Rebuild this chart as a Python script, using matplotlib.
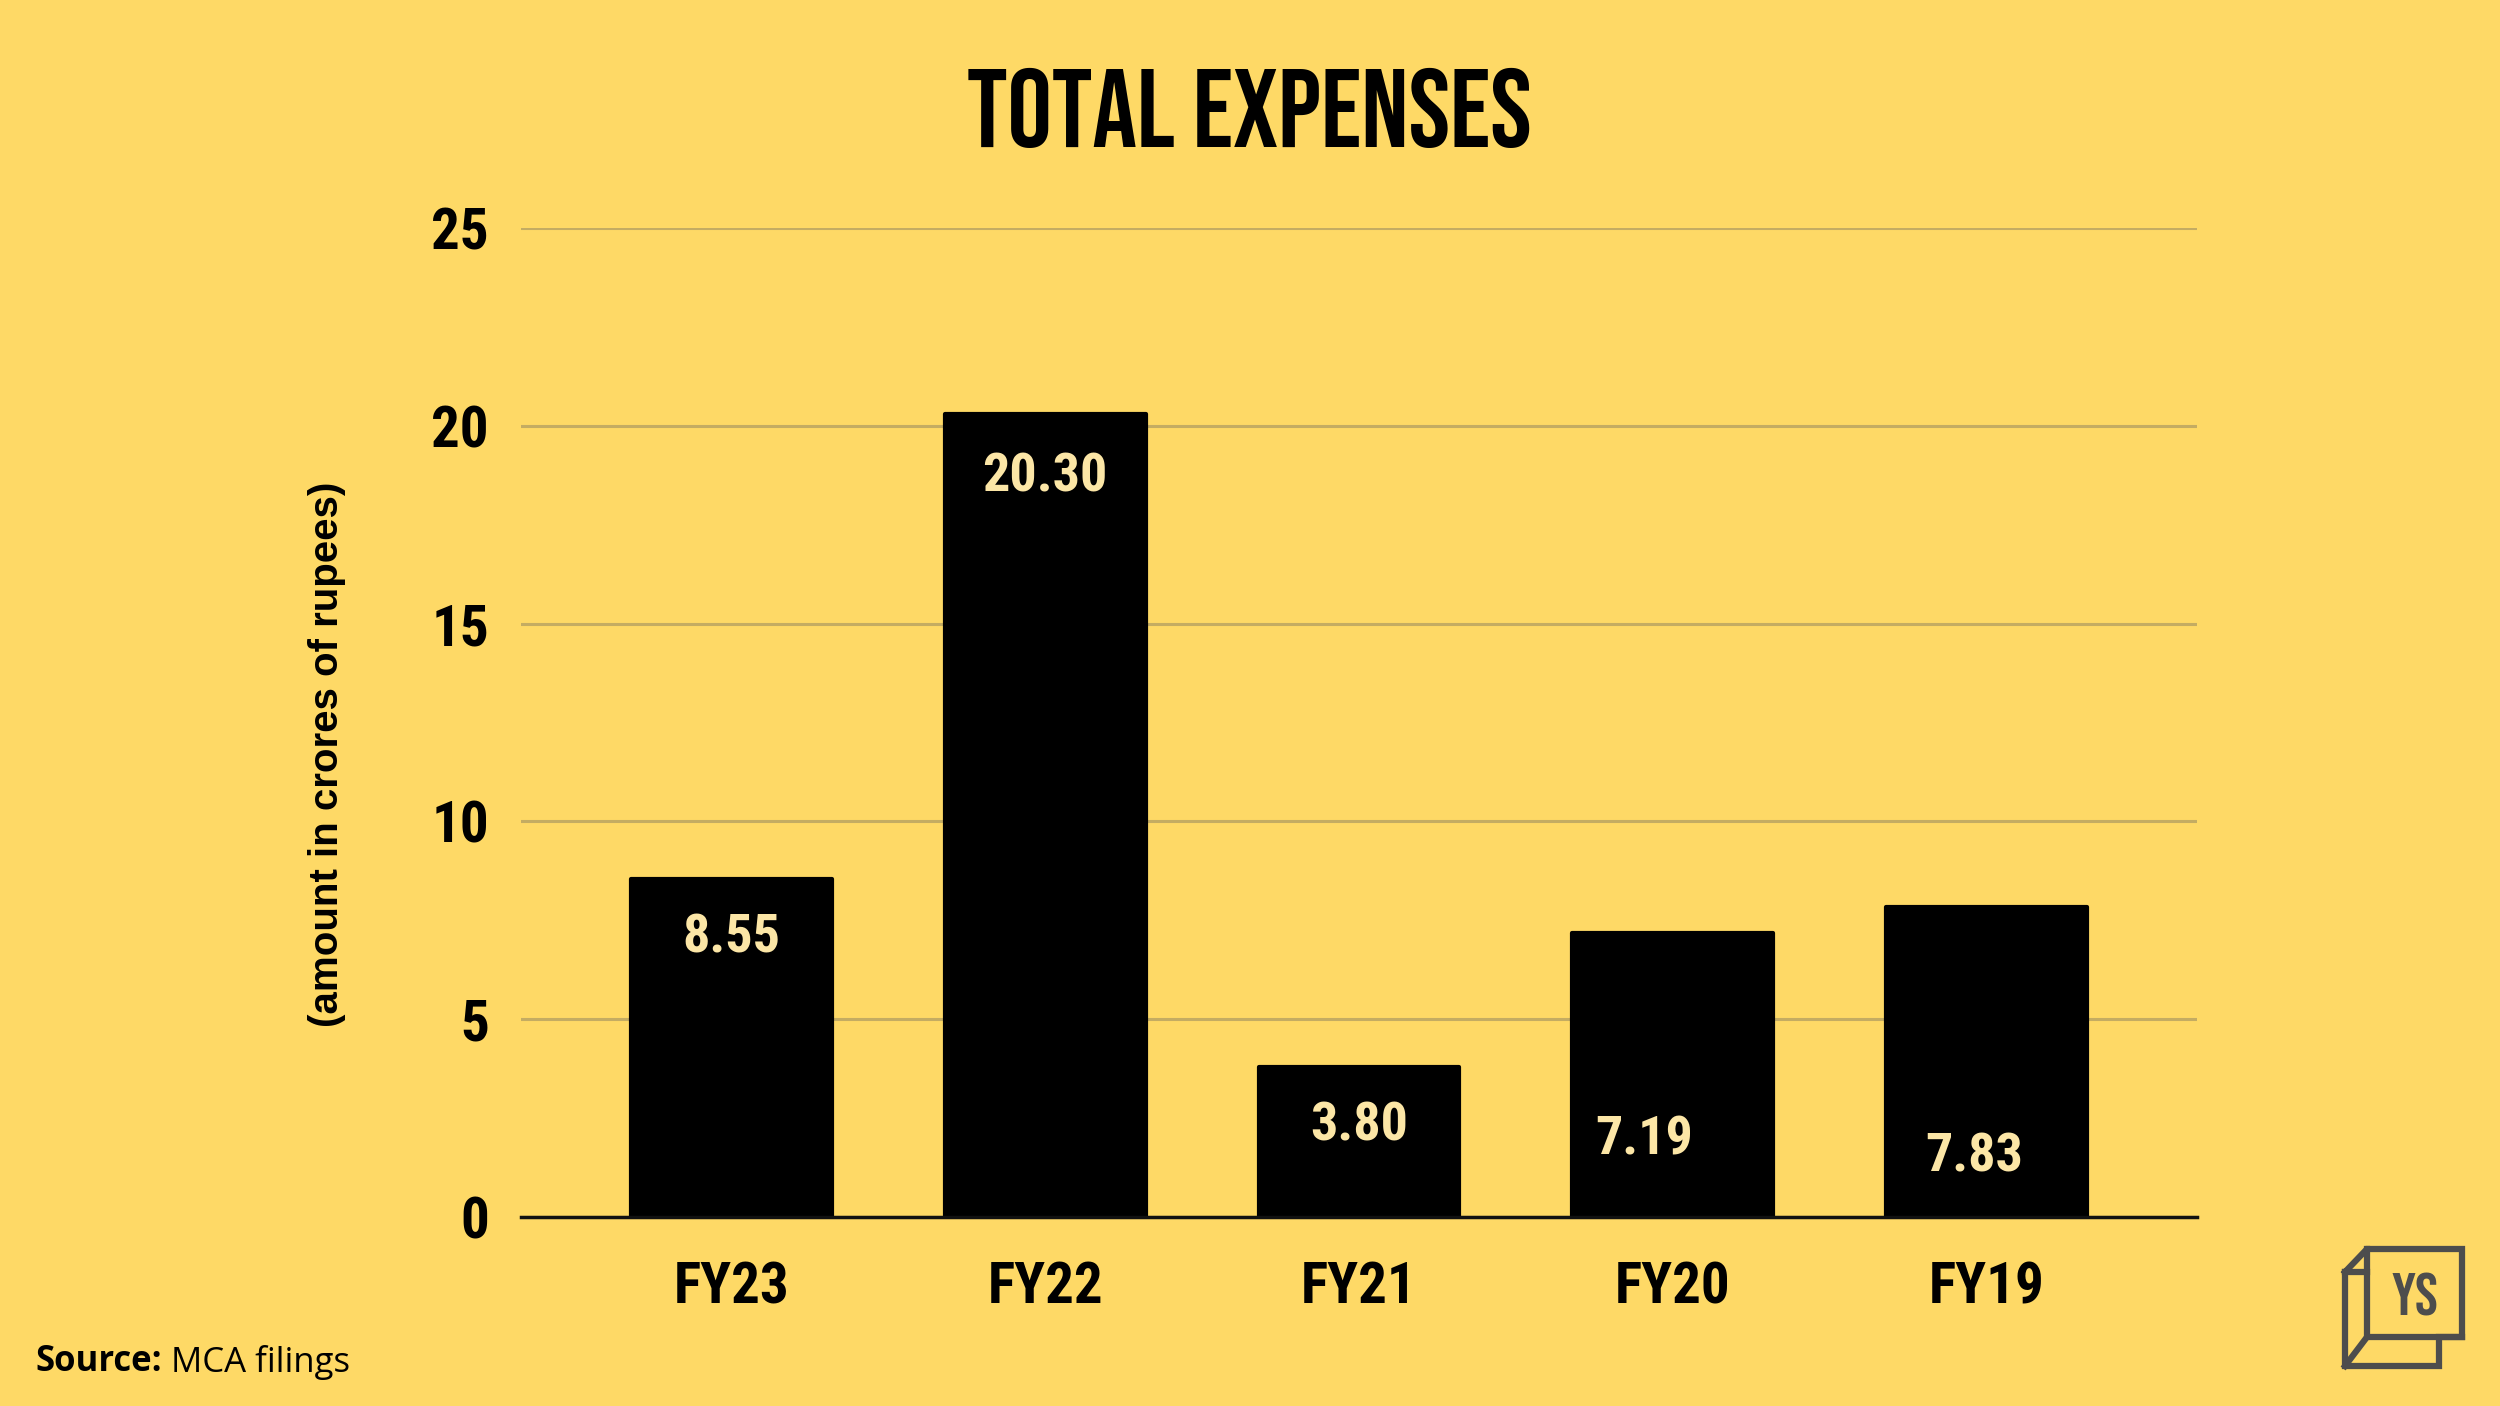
import matplotlib
matplotlib.use("Agg")
import matplotlib.pyplot as plt
from matplotlib.lines import Line2D

# data
years = ["FY23", "FY22", "FY21", "FY20", "FY19"]
expenses = [8.55, 20.30, 3.80, 7.19, 7.83]
value_labels = ["8.55", "20.30", "3.80", "7.19", "7.83"]
y_ticks = [0, 5, 10, 15, 20, 25]

# where each value label sits inside its bar (drop below top, x shift)
label_drop = [1.49, 1.59, 1.50, 5.25, 6.30]
label_dx = [0.0, 0.0, 0.0, -0.09, -0.04]

bg = "#FED966"
cream = "#FCE6A6"
grid_col = "#C4AC62"
logo_col = "#4D4D4D"

cond = ["Roboto Condensed", "DejaVu Sans"]
head = ["Bebas Neue", "Oswald", "DejaVu Sans"]
body = ["Open Sans", "DejaVu Sans"]
arial = ["Liberation Sans", "DejaVu Sans"]

fig = plt.figure(figsize=(25, 14.06), dpi=100, facecolor=bg)
ax = fig.add_axes([0.2084, 0.1344, 0.6704, 0.7034], facecolor=bg)

x = range(len(years))
ax.bar(x, expenses, width=0.64, color="black", edgecolor="black",
       linewidth=3, joinstyle="round", zorder=3)

for i, (v, lab) in enumerate(zip(expenses, value_labels)):
    ax.text(i + label_dx[i], v - label_drop[i], lab, ha="center", va="center",
            color=cream, fontsize=39, fontweight="bold", family=cond, zorder=4)

ax.set_xlim(-0.67, 4.67)
ax.set_ylim(0, 25)
ax.set_yticks(y_ticks)
ax.set_yticklabels([str(t) for t in y_ticks], fontsize=41, fontweight="bold",
                   family=cond)
ax.set_xticks(list(x))
ax.set_xticklabels(years, fontsize=41, fontweight="bold", family=cond)
ax.tick_params(axis="y", length=0, pad=23)
ax.tick_params(axis="x", length=0, pad=31)

ax.grid(axis="y", color=grid_col, linewidth=2.2, zorder=0)
for s in ["top", "right", "left"]:
    ax.spines[s].set_visible(False)
ax.spines["bottom"].set_color("#111111")
ax.spines["bottom"].set_linewidth(2.5)
ax.spines["bottom"].set_zorder(5)

fig.text(0.1307, 0.4636, "(amount in crores of rupees)", rotation=90,
         ha="center", va="center", fontsize=29, fontweight="bold", family=arial)

fig.text(0.4997, 0.8957, "TOTAL EXPENSES", ha="center", va="baseline",
         fontsize=80, family=head)

src = fig.text(0.014, 0.025, "Source:", ha="left", va="baseline",
               fontsize=25, fontweight="bold", family=body)
ax.annotate(" MCA filings", xy=(1, 0), xycoords=src, va="bottom", ha="left",
            fontsize=25, family=body, annotation_clip=False)

# YS logo (pixel coords of the 2500x1406 canvas)
W, H = 2500.0, 1406.0
def P(px, py):
    return (px / W, 1 - py / H)

outline = [P(2345, 1272), P(2367, 1249), P(2462, 1249), P(2462, 1337),
           P(2439, 1337), P(2439, 1366), P(2345, 1366), P(2345, 1272)]
front = [P(2367, 1249), P(2367, 1337), P(2462, 1337)]
diag = [P(2345, 1366), P(2367, 1337)]
cap = [P(2345, 1272), P(2367, 1272)]
for pts in (outline, front, diag, cap):
    xs, ys = zip(*pts)
    fig.add_artist(Line2D(xs, ys, color=logo_col, linewidth=4.5,
                          solid_joinstyle="miter", transform=fig.transFigure))
fig.text(*P(2415, 1316), "YS", ha="center", va="baseline", color=logo_col,
         fontsize=44, family=head)

fig.savefig("out.png", dpi=100, facecolor=bg)
